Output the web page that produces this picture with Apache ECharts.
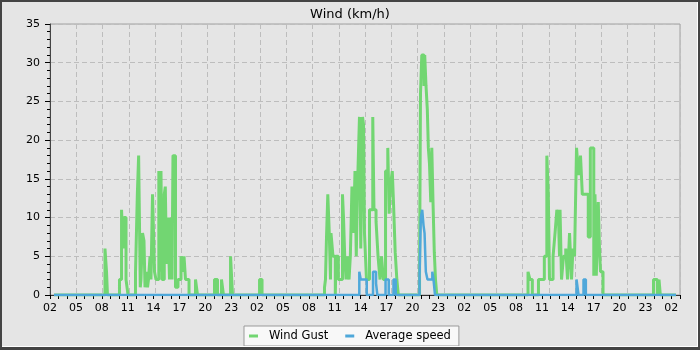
<!DOCTYPE html>
<html>
<head>
<meta charset="utf-8">
<script src="https://cdn.jsdelivr.net/npm/echarts@6/dist/echarts.min.js"></script>
<style>
html,body{margin:0;padding:0;background:#e5e5e5;}
#chart{width:700px;height:350px;}
</style>
</head>
<body>
<div id="chart"></div>
<script>
// Hours since 02:00 of the first day; each value holds until the next point (step).
var gustHours = [0.46, 6.37, 6.55, 6.66, 8.05, 8.29, 8.46, 8.57, 8.81, 9.04,
  9.91, 10.12, 10.27, 10.46, 10.54, 10.72, 10.89, 11.01, 11.18, 11.30, 11.41, 11.59, 11.70, 11.88,
  12.11, 12.28, 12.61, 12.77, 12.86, 12.98, 13.24, 13.36, 13.50, 13.65, 13.85, 13.96, 14.14, 14.25,
  14.54, 14.83, 15.18, 15.41, 15.53, 15.70, 16.11, 16.86, 17.09, 19.06, 19.41, 19.87, 20.10, 20.92, 21.15,
  24.28, 24.57,
  31.81, 31.92, 32.04, 32.19, 32.36, 32.50, 32.56, 32.79, 33.06, 33.14, 33.41, 33.89, 34.01, 34.15,
  34.30, 34.45, 34.65, 34.80, 34.99, 35.17, 35.34, 35.49, 35.63, 35.86, 36.01, 36.21, 36.33, 36.44,
  36.67, 37.02, 37.40, 37.54, 37.78, 38.01, 38.24, 38.41, 38.64, 38.88, 39.14, 39.30, 39.43, 39.66,
  39.80, 40.00, 40.19, 40.36,
  42.82, 42.93, 43.08, 43.34, 43.42, 43.57, 43.72, 43.84, 43.97, 44.12, 44.24, 44.38, 44.53, 44.67, 44.82,
  55.39, 55.62, 55.89, 56.60, 57.28, 57.57, 57.74, 57.88, 58.29, 58.52, 58.73, 58.92, 59.04, 59.10,
  59.27, 59.50, 59.76, 59.97, 60.20, 60.43, 60.60, 60.78, 61.01, 61.24, 61.47, 61.68, 62.37, 62.61,
  63.01, 63.15, 63.30, 63.53, 63.67, 63.79, 64.08,
  69.93, 70.37, 70.57, 70.72, 72.54];
var gustKmh = [0, 6, 3, 0, 2, 11, 6, 10, 2, 0,
  3, 13, 18, 1, 2, 8, 7, 1, 3, 1, 2, 5, 2, 13,
  3, 2, 16, 3, 16, 2, 13, 14, 4, 10, 2, 10, 2, 18,
  1, 2, 5, 3, 5, 2, 0, 2, 0, 2, 0, 2, 0, 5, 0,
  2, 0,
  1, 2, 7.5, 13, 8, 2, 8, 5, 0, 5, 2, 13, 10, 5,
  2, 5, 2, 5, 14, 8, 16, 5, 14, 23, 6, 23, 22, 8,
  2, 11, 23, 11, 9.5, 5, 2, 5, 2, 16, 19, 10.5, 14, 16,
  12, 5.5, 2, 0,
  2.5, 26, 31, 27, 31, 27, 24, 19, 17, 12, 19, 12, 5.5, 2, 0,
  3, 2, 0, 2, 5, 18, 13, 2, 5, 8, 11, 10, 5, 11,
  2, 5, 6, 2, 8, 2, 6, 5, 19, 15.5, 18, 13, 7.5, 19,
  2.5, 13, 2.5, 12, 6, 3, 0,
  2, 0, 2, 0, 0];
var avgHours = [0.46, 35.84, 36.01, 36.70, 37.43, 37.78, 37.93, 38.88, 39.25, 39.80, 40.06,
  42.82, 42.97, 43.13, 43.28, 43.40, 43.55, 43.74, 44.30, 44.44, 44.61,
  61.01, 61.24, 61.82, 62.09, 72.54];
var avgKmh = [0, 3, 2, 0, 3, 1.5, 0, 2, 0, 2, 0,
  2.5, 10, 11, 9, 8, 3, 2, 3, 2, 0,
  2, 0, 2, 0, 0];
var xTickLabels = ['02','05','08','11','14','17','20','23','02','05','08','11','14','17','20','23',
  '02','05','08','11','14','17','20','23','02'];

function zip(a, b) { var r = []; for (var i = 0; i < a.length; i++) r.push([a[i], b[i]]); return r; }

var FONT = 'DejaVu Sans';
var chart = echarts.init(document.getElementById('chart'), null, {renderer: 'canvas'});
chart.setOption({
  animation: false,
  backgroundColor: '#e5e5e5',
  title: {
    text: 'Wind (km/h)', left: 'center', top: 3,
    textStyle: {fontFamily: FONT, fontSize: 13, fontWeight: 'normal', color: '#000'}
  },
  grid: {left: 50, right: 20, top: 24, bottom: 55, show: true, borderColor: '#a0a0a0', borderWidth: 1,
    backgroundColor: 'transparent', outerBoundsMode: 'none'},
  legend: {
    left: 244, top: 326, padding: [4, 8, 4, 5],
    backgroundColor: '#f8f8f8', borderColor: '#999', borderWidth: 1, borderRadius: 0,
    icon: 'rect', itemWidth: 9, itemHeight: 3, itemGap: 17,
    textStyle: {fontFamily: FONT, fontSize: 11.5, color: '#000', padding: [0, 0, 0, 6]},
    data: ['Wind Gust', 'Average speed']
  },
  xAxis: [{
    type: 'value', min: 0, max: 73, interval: 1, position: 'bottom',
    axisLine: {show: true, lineStyle: {color: '#333', width: 1}},
    axisTick: {show: true, length: 4, lineStyle: {color: '#000'}},
    axisLabel: {show: true, margin: 8, fontFamily: FONT, fontSize: 11, color: '#000',
      formatter: function (v) { return (v % 3 === 0 && v / 3 < xTickLabels.length) ? xTickLabels[v / 3] : ''; }},
    splitLine: {show: false}
  }, {
    type: 'value', min: 0, max: 72, interval: 3, position: 'bottom',
    axisLine: {show: false}, axisTick: {show: false}, axisLabel: {show: false},
    splitLine: {show: true, lineStyle: {color: '#bdbdbd', type: [5, 3], width: 1}}
  }],
  yAxis: {
    type: 'value', min: 0, max: 35, interval: 5,
    axisLine: {show: true, lineStyle: {color: '#444', width: 1}},
    axisTick: {show: true, length: 5, lineStyle: {color: '#000'}},
    minorTick: {show: true, splitNumber: 5, length: 3, lineStyle: {color: '#000'}},
    axisLabel: {margin: 10, fontFamily: FONT, fontSize: 11, color: '#000'},
    splitLine: {show: true, lineStyle: {color: '#bdbdbd', type: [5, 3], width: 1}}
  },
  series: [{
    name: 'Wind Gust', type: 'line', step: 'end', xAxisIndex: 0,
    data: zip(gustHours, gustKmh), showSymbol: false, symbol: 'none',
    lineStyle: {color: '#72d672', width: 3}, itemStyle: {color: '#72d672'}, z: 2
  }, {
    name: 'Average speed', type: 'line', step: 'end', xAxisIndex: 0,
    data: zip(avgHours, avgKmh), showSymbol: false, symbol: 'none',
    lineStyle: {color: '#4fa8da', width: 2.5}, itemStyle: {color: '#4fa8da'}, z: 3
  }],
  graphic: [
    {type: 'rect', shape: {x: 0, y: 0, width: 700, height: 2}, style: {fill: '#444'}, z: 100},
    {type: 'rect', shape: {x: 0, y: 347, width: 700, height: 3}, style: {fill: '#444'}, z: 100},
    {type: 'rect', shape: {x: 0, y: 0, width: 2, height: 350}, style: {fill: '#444'}, z: 100},
    {type: 'rect', shape: {x: 698, y: 0, width: 2, height: 350}, style: {fill: '#444'}, z: 100},
    {type: 'rect', shape: {x: 697, y: 2, width: 1, height: 345}, style: {fill: '#fff'}, z: 100},
    {type: 'rect', shape: {x: 2, y: 346, width: 695, height: 1}, style: {fill: '#fff'}, z: 100}
  ]
});
</script>
</body>
</html>
